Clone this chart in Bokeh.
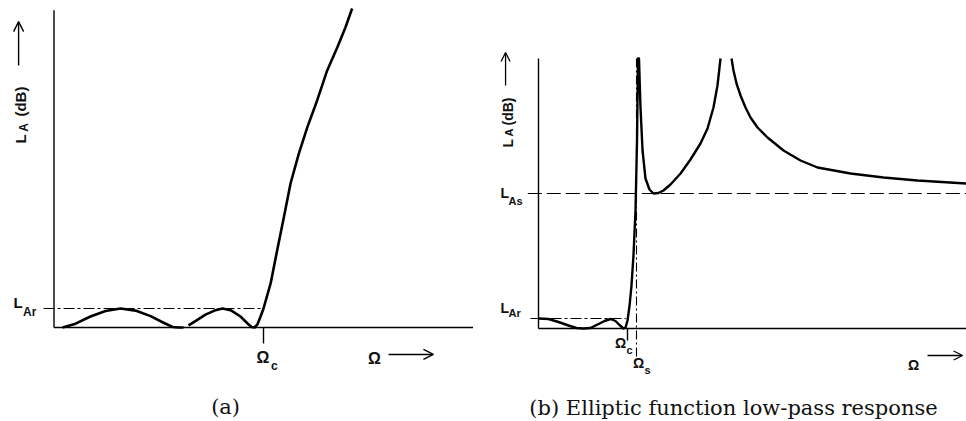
import math
from bokeh.plotting import figure
from bokeh.models import Range1d, Label, Arrow, OpenHead
from bokeh.layouts import row
from bokeh.embed import file_html
from bokeh.resources import INLINE

# ---------------- data (normalised: Omega/Omega_c, L_A in units) ----------------
# panel (a): Chebyshev-like response, L_Ar = 1
A_OMEGA_C = 1.0
A_L_AR = 1.0
A_OMEGA_MAX = 2.0
A_LA_MAX = 16.7
a_ripple1_x = [0.041, 0.103, 0.174, 0.246, 0.317, 0.389, 0.461, 0.523, 0.566, 0.594, 0.618]
a_ripple1_y = [0.0, 0.2, 0.58, 0.87, 1.0, 0.89, 0.6, 0.25, 0.03, 0.0, 0.0]
a_rest_x = [0.642, 0.675, 0.723, 0.766, 0.804, 0.847, 0.890, 0.924, 0.943, 0.957, 0.971,
            0.986, 1.0, 1.034, 1.065, 1.097, 1.129, 1.169, 1.209, 1.256, 1.304, 1.352,
            1.391, 1.423]
a_rest_y = [0.11, 0.34, 0.68, 0.89, 1.0, 0.89, 0.58, 0.21, 0.03, 0.0, 0.16,
            0.58, 1.0, 2.32, 4.05, 5.79, 7.58, 9.16, 10.53, 11.95, 13.53, 14.74,
            15.79, 16.79]

# panel (b): elliptic function response, L_Ar = 1, L_As = 13.5
B_OMEGA_C = 1.0
B_OMEGA_S = 1.101
B_L_AR = 1.0
B_L_AS = 13.5
B_OMEGA_MAX = 4.81
B_LA_MAX = 27.0
b_main_x = [0.0, 0.112, 0.225, 0.337, 0.427, 0.506, 0.584, 0.663, 0.742, 0.809, 0.865,
            0.910, 0.955, 0.978, 1.0, 1.022, 1.045, 1.067, 1.090, 1.107, 1.118,
            1.129, 1.146, 1.169, 1.202, 1.247, 1.292, 1.348, 1.404, 1.483, 1.596,
            1.708, 1.820, 1.899, 1.966, 2.011, 2.045]
b_main_y = [1.0, 0.95, 0.65, 0.3, 0.05, 0.0, 0.05, 0.4, 0.75, 0.95, 0.75,
            0.35, 0.0, 0.1, 0.8, 2.2, 4.3, 7.3, 11.8, 18.8, 27.0,
            27.0, 22.1, 17.8, 15.0, 13.9, 13.5, 13.55, 13.8, 14.4, 15.5,
            16.9, 18.5, 20.0, 22.1, 24.3, 27.0]
b_tail_x = [2.169, 2.191, 2.225, 2.270, 2.326, 2.382, 2.461, 2.573, 2.753, 2.944,
            3.135, 3.506, 3.876, 4.258, 4.809]
b_tail_y = [27.0, 25.8, 24.5, 23.3, 22.1, 21.1, 20.1, 19.1, 17.8, 16.8,
            16.1, 15.5, 15.1, 14.8, 14.5]

SANS = "Liberation Sans"
SERIF = "DejaVu Serif"


def make_fig(xr, yr):
    p = figure(width=483, height=421, x_range=Range1d(*xr), y_range=Range1d(*yr),
               x_axis_location=None, y_axis_location=None, toolbar_location=None,
               output_backend="svg", min_border=0, outline_line_color=None,
               background_fill_color="white", border_fill_color="white")
    p.grid.visible = False
    return p


def lab(p, x, y, text, size, font=SANS, style="bold", align="left", angle=0.0,
        baseline="middle"):
    p.add_layout(Label(x=x, y=y, text=text, text_font=font, text_font_size=f"{size}px",
                       text_font_style=style, text_align=align, text_baseline=baseline,
                       angle=angle, text_color="#111111"))


# ---------------- panel (a) ----------------
pa = make_fig((-0.2554, 2.0501), (-4.947, 17.21))
pa.line([0, 0], [0, A_LA_MAX], line_color="black", line_width=1.4)
pa.line([0, A_OMEGA_MAX], [0, 0], line_color="black", line_width=1.4)
pa.line([-0.05, A_OMEGA_C], [A_L_AR, A_L_AR], line_color="black", line_width=1.1,
        line_dash="11 3 3 3")
pa.line([A_OMEGA_C, A_OMEGA_C], [0, -0.84], line_color="black", line_width=1.4)
pa.line(a_ripple1_x, a_ripple1_y, line_color="black", line_width=2.6, line_join="round")
pa.line(a_rest_x, a_rest_y, line_color="black", line_width=2.6, line_join="round")

lab(pa, -0.193, 1.29, "L", 15)
lab(pa, -0.148, 0.80, "Ar", 12)
lab(pa, 0.966, -1.58, "Ω", 16)
lab(pa, 1.036, -2.0, "c", 12)
lab(pa, 1.499, -1.63, "Ω", 16)
pa.add_layout(Arrow(end=OpenHead(size=10, line_width=1.4), x_start=1.597, y_start=-1.42,
                    x_end=1.811, y_end=-1.42, line_width=1.4))
lab(pa, -0.160, 9.68, "L", 15, angle=math.pi / 2)
lab(pa, -0.142, 10.30, "A", 12, angle=math.pi / 2)
lab(pa, -0.160, 11.10, "(dB)", 15, angle=math.pi / 2)
pa.add_layout(Arrow(end=OpenHead(size=10, line_width=1.4), x_start=-0.169, y_start=13.79,
                    x_end=-0.169, y_end=16.1, line_width=1.4))
lab(pa, 0.819, -4.21, "(a)", 21, font=SERIF, style="normal", align="center")

# ---------------- panel (b) ----------------
pb = make_fig((-0.618, 4.809), (-9.3, 32.8))
pb.line([0, 0], [0, B_LA_MAX], line_color="black", line_width=1.4)
pb.line([0, B_OMEGA_MAX], [0, 0], line_color="black", line_width=1.4)
pb.line([-0.09, 0.98], [B_L_AR, B_L_AR], line_color="black", line_width=1.1,
        line_dash="11 3 3 3")
pb.line([-0.12, B_OMEGA_MAX], [B_L_AS, B_L_AS], line_color="black", line_width=1.1,
        line_dash="14 5")
pb.line([B_OMEGA_C, B_OMEGA_C], [0, -1.2], line_color="black", line_width=1.4)
pb.line([B_OMEGA_S, B_OMEGA_S], [B_LA_MAX, -2.9], line_color="black", line_width=1.1,
        line_dash="9 3 2 3")
pb.line(b_main_x, b_main_y, line_color="black", line_width=2.4, line_join="round")
pb.line(b_tail_x, b_tail_y, line_color="black", line_width=2.4, line_join="round")

lab(pb, -0.427, 2.1, "L", 14)
lab(pb, -0.337, 1.55, "Ar", 11)
lab(pb, -0.427, 13.55, "L", 14)
lab(pb, -0.337, 12.8, "As", 11)
lab(pb, 0.860, -1.4, "Ω", 14)
lab(pb, 0.99, -2.1, "c", 11)
lab(pb, 1.062, -3.4, "Ω", 14)
lab(pb, 1.19, -4.1, "s", 11)
lab(pb, 4.152, -3.6, "Ω", 14)
pb.add_layout(Arrow(end=OpenHead(size=9, line_width=1.3), x_start=4.371, y_start=-2.7,
                    x_end=4.765, y_end=-2.7, line_width=1.3))
lab(pb, -0.348, 18.1, "L", 14, angle=math.pi / 2)
lab(pb, -0.33, 19.2, "A", 11, angle=math.pi / 2)
lab(pb, -0.348, 20.3, "(dB)", 14, angle=math.pi / 2)
pb.add_layout(Arrow(end=OpenHead(size=9, line_width=1.3), x_start=-0.37, y_start=24.3,
                    x_end=-0.37, y_end=27.6, line_width=1.3))
lab(pb, 2.191, -7.9, "(b) Elliptic function low-pass response", 21, font=SERIF,
    style="normal", align="center")

layout = row(pa, pb)
open("out.html", "w").write(file_html(layout, INLINE))
